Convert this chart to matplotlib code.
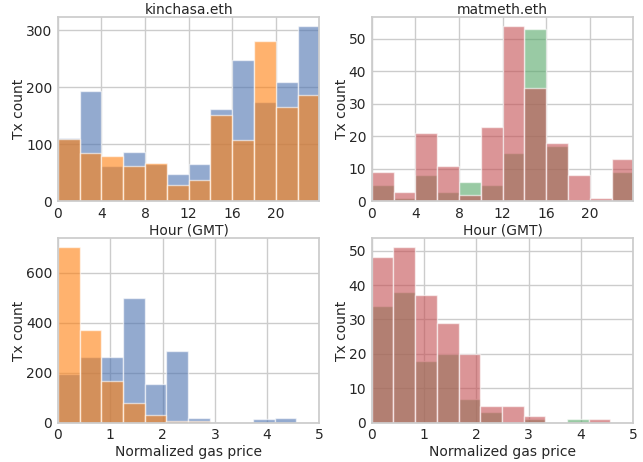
import numpy as np
import seaborn as sns
from matplotlib import pyplot as plt

sns.set_theme(style="whitegrid")
plt.rcParams['font.family'] = ['DejaVu Sans']

# bins: ore (2h) e prezzo gas normalizzato (11 bin fino a ~4.56)
hour_edges = np.arange(0, 25, 2)
gas_edges = np.linspace(0, 4.56, 12)

# kinchasa.eth
kin_hour_blue = [112, 194, 63, 86, 66, 48, 66, 162, 248, 175, 210, 308]
kin_hour_orange = [110, 85, 80, 62, 68, 29, 38, 152, 108, 282, 166, 186]
kin_gas_blue = [197, 262, 262, 499, 155, 286, 20, 0, 0, 13, 17]
kin_gas_orange = [703, 370, 168, 78, 30, 8, 8, 0, 0, 0, 0]

# matmeth.eth
mat_hour_green = [5, 1, 8, 3, 6, 5, 15, 53, 17, 0, 0, 9]
mat_hour_red = [9, 3, 21, 11, 2, 23, 54, 35, 18, 8, 1, 13]
mat_gas_green = [34, 38, 18, 20, 7, 3, 0, 1, 0, 1, 0]
mat_gas_red = [48, 51, 37, 29, 20, 5, 5, 2, 0, 0, 1]

blue = "#4c72b0"
orange = "#ff7f0e"
green = "#55a868"
red = "#c44e52"


def draw(ax, edges, first, second, c1, c2):
    w = np.diff(edges)
    ax.bar(edges[:-1], first, width=w, align='edge', color=c1, alpha=0.6,
           edgecolor='white', linewidth=1)
    ax.bar(edges[:-1], second, width=w, align='edge', color=c2, alpha=0.6,
           edgecolor='white', linewidth=1)
    ax.set_ylabel("Tx count", fontsize=10, labelpad=0)


fig, axs = plt.subplots(2, 2, figsize=(6.43, 4.62), dpi=100)

ax = axs[0, 0]
draw(ax, hour_edges, kin_hour_blue, kin_hour_orange, blue, orange)
ax.set_title("kinchasa.eth", fontsize=10, pad=2)
ax.set_xlabel("Hour (GMT)", fontsize=10, labelpad=2)
ax.set_xlim(0, 24)
ax.set_xticks([0, 4, 8, 12, 16, 20])

ax = axs[0, 1]
draw(ax, hour_edges, mat_hour_green, mat_hour_red, green, red)
ax.set_title("matmeth.eth", fontsize=10, pad=2)
ax.set_xlabel("Hour (GMT)", fontsize=10, labelpad=2)
ax.set_xlim(0, 24)
ax.set_xticks([0, 4, 8, 12, 16, 20])

ax = axs[1, 0]
draw(ax, gas_edges, kin_gas_blue, kin_gas_orange, blue, orange)
ax.set_xlabel("Normalized gas price", fontsize=10, labelpad=2)
ax.set_xlim(0, 5)

ax = axs[1, 1]
draw(ax, gas_edges, mat_gas_green, mat_gas_red, green, red)
ax.set_xlabel("Normalized gas price", fontsize=10, labelpad=2)
ax.set_xlim(0, 5)

for ax in axs.flat:
    ax.tick_params(labelsize=10, length=0, pad=4)

plt.subplots_adjust(left=0.09, right=0.985, top=0.963, bottom=0.085,
                    wspace=0.2, hspace=0.2)
plt.savefig("out.png")
plt.close()
